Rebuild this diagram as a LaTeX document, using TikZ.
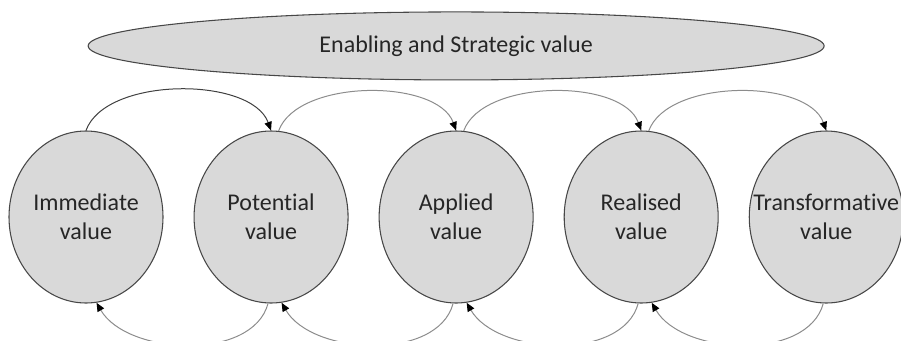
\documentclass[tikz,border=0pt]{standalone}
\usepackage{fontspec}
\setmainfont{Carlito}[Ligatures=NoCommon]
\usetikzlibrary{arrows.meta,positioning,shapes.geometric}
\definecolor{bubble}{HTML}{D9D9D9}
\definecolor{rim}{HTML}{474747}

\begin{document}
\begin{tikzpicture}[
    x=0.75pt, y=0.75pt,
    font=\fontsize{18}{21.75}\selectfont,
    >={Triangle[length=6.5pt,width=5.5pt,color=black]},
    node distance=22.5pt,
    stage/.style={ellipse, draw=rim, line width=0.8pt, fill=bubble, text=black!85, align=center, minimum width=115.5pt, minimum height=129pt, inner xsep=-16pt, inner ysep=0pt},
    banner/.style={stage, minimum width=552pt, minimum height=51pt},
    fwd/.style={->, line width=0.75pt, draw=black!45, out=70, in=110, looseness=0.8},
    back/.style={->, line width=0.75pt, draw=black!45, out=-105, in=-60, looseness=0.9}
]

% Frame
\useasboundingbox (0,0) rectangle (901,-340);
\clip (0,0) rectangle (901,-340);

% Value stages (left to right)
\node[stage] (imm) at (86,-217) {Immediate\\value};
\node[stage, right=of imm] (pot) {Potential\\value};
\node[stage, right=of pot] (app) {Applied\\value};
\node[stage, right=of app] (rea) {Realised\\value};
\node[stage, right=of rea] (tra) {Transformative\\value};

% Strategic value across the top
\node[banner, above=37.5pt of app] (strat) {Enabling and Strategic value};

% Forward arcs over the top
\draw[fwd, draw=black!75] (imm.north) to (pot.north);
\draw[fwd] (pot.85) to (app.north);
\draw[fwd] (app.85) to (rea.north);
\draw[fwd] (rea.85) to (tra.north);

% Feedback arcs underneath
\draw[back] (pot.-92) to (imm.-83);
\draw[back] (app.-92) to (pot.-83);
\draw[back] (rea.-92) to (app.-83);
\draw[back] (tra.-92) to (rea.-83);

\end{tikzpicture}
\end{document}
